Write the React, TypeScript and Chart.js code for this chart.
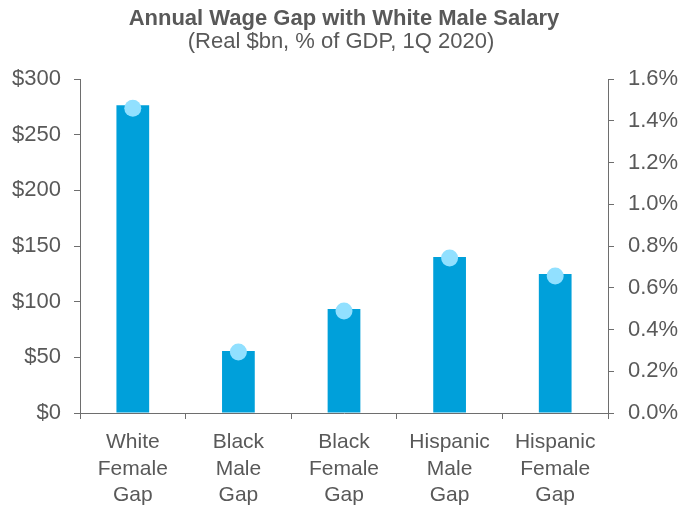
import React, { useEffect, useRef } from "react";
import { Chart, registerables } from "chart.js";

Chart.register(...registerables);

const categories: string[][] = [
  ["White", "Female", "Gap"],
  ["Black", "Male", "Gap"],
  ["Black", "Female", "Gap"],
  ["Hispanic", "Male", "Gap"],
  ["Hispanic", "Female", "Gap"],
];
const wageGapBn: number[] = [276.5, 55.7, 93.4, 140.1, 124.9];
const wageGapPctGdp: number[] = [1.46, 0.292, 0.489, 0.742, 0.656];
const leftTicks = { min: 0, max: 300, step: 50 };
const rightTicks = { min: 0, max: 1.6, step: 0.2 };
const titleText = "Annual Wage Gap with White Male Salary";
const subtitleText = "(Real $bn, % of GDP, 1Q 2020)";

const FONT = '"Liberation Sans", Arial, sans-serif';
const TEXT = "#595959";
const AXIS = "#6e6e6e";

const titlePlugin = {
  id: "customTitle",
  afterDraw(chart: any) {
    const ctx = chart.ctx;
    ctx.save();
    ctx.fillStyle = TEXT;
    ctx.textAlign = "center";
    ctx.textBaseline = "alphabetic";
    ctx.font = `bold 22px ${FONT}`;
    ctx.fillText(titleText, 344, 25);
    ctx.font = `22px ${FONT}`;
    ctx.fillText(subtitleText, 341, 48);
    ctx.restore();
  },
};

export default function App() {
  const ref = useRef<HTMLCanvasElement | null>(null);
  useEffect(() => {
    if (!ref.current) return;
    const chart = new Chart(ref.current, {
      type: "bar",
      data: {
        labels: categories,
        datasets: [
          {
            type: "line",
            label: "% of GDP",
            data: wageGapPctGdp,
            yAxisID: "y1",
            showLine: false,
            pointRadius: 8.5,
            pointHoverRadius: 8.5,
            pointBackgroundColor: "#91e0ff",
            pointBorderWidth: 0,
            borderColor: "#91e0ff",
            backgroundColor: "#91e0ff",
            order: 0,
          } as any,
          {
            type: "bar",
            label: "Real $bn",
            data: wageGapBn,
            yAxisID: "y",
            backgroundColor: "#00a0da",
            borderWidth: 0,
            categoryPercentage: 1,
            barPercentage: 0.31,
            order: 1,
          },
        ],
      },
      options: {
        responsive: false,
        animation: false,
        devicePixelRatio: 1,
        layout: { padding: { top: 79, left: 0, right: 0, bottom: 0 } },
        plugins: {
          legend: { display: false },
          title: { display: false },
          tooltip: { enabled: false },
        },
        scales: {
          x: {
            offset: true,
            grid: { offset: true, drawOnChartArea: false, drawTicks: true, tickLength: 6, color: AXIS },
            border: { display: true, color: AXIS, width: 1 },
            ticks: {
              color: TEXT,
              font: { family: FONT, size: 21, lineHeight: 1.27 },
              padding: 10,
              maxRotation: 0,
              autoSkip: false,
            },
            afterFit(scale: any) {
              scale.height = 94;
            },
          },
          y: {
            position: "left",
            min: leftTicks.min,
            max: leftTicks.max,
            grid: { drawOnChartArea: false, drawTicks: true, tickLength: 6, color: AXIS },
            border: { display: true, color: AXIS, width: 1 },
            ticks: {
              stepSize: leftTicks.step,
              color: TEXT,
              font: { family: FONT, size: 22 },
              padding: 13,
              callback: (v: any) => "$" + v,
            },
            afterFit(scale: any) {
              scale.width = 80;
            },
          },
          y1: {
            position: "right",
            min: rightTicks.min,
            max: rightTicks.max,
            grid: { drawOnChartArea: false, drawTicks: true, tickLength: 6, color: AXIS },
            border: { display: true, color: AXIS, width: 1 },
            ticks: {
              stepSize: rightTicks.step,
              color: TEXT,
              font: { family: FONT, size: 22 },
              padding: 14,
              callback: (v: any) => Number(v).toFixed(1) + "%",
            },
            afterFit(scale: any) {
              scale.width = 70;
            },
          },
        },
      } as any,
      plugins: [titlePlugin],
    });
    return () => chart.destroy();
  }, []);
  return (
    <canvas
      ref={ref}
      width={678}
      height={507}
      style={{ position: "fixed", left: 0, top: 0, display: "block", width: 678, height: 507 }}
    />
  );
}
